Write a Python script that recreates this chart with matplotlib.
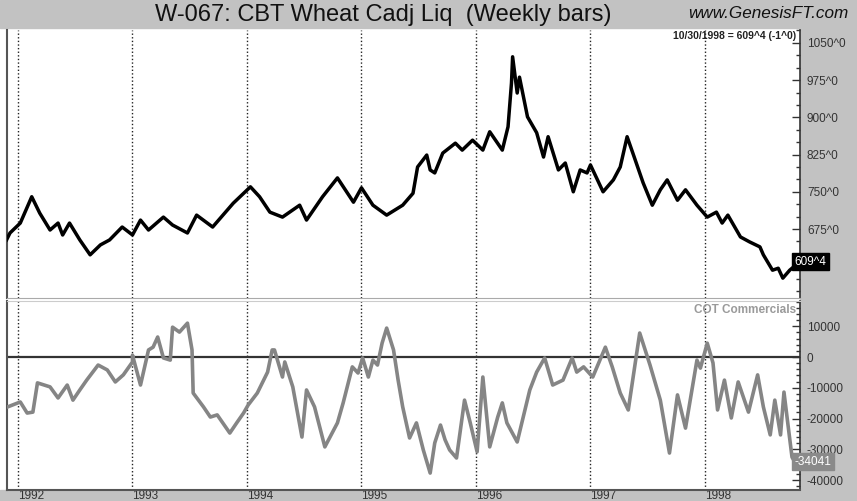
import matplotlib
matplotlib.use("Agg")
import matplotlib.pyplot as plt
from matplotlib.patches import Rectangle
from matplotlib.ticker import MultipleLocator, FixedLocator

plt.rcParams['font.family'] = ['Liberation Sans', 'DejaVu Sans']

# weekly price (cents, decimal year)
price_t = [1991.90, 1991.93, 1992.02, 1992.12, 1992.19, 1992.28, 1992.35, 1992.39,
           1992.45, 1992.54, 1992.63, 1992.72, 1992.80, 1992.91, 1993.00, 1993.07,
           1993.14, 1993.27, 1993.35, 1993.48, 1993.56, 1993.70, 1993.88, 1994.03,
           1994.11, 1994.20, 1994.31, 1994.46, 1994.52, 1994.66, 1994.79, 1994.93,
           1995.00, 1995.10, 1995.22, 1995.36, 1995.45, 1995.49, 1995.57, 1995.60,
           1995.64, 1995.71, 1995.82, 1995.88, 1995.97, 1996.06, 1996.12, 1996.23,
           1996.28, 1996.31, 1996.32, 1996.36, 1996.38, 1996.45, 1996.53, 1996.59,
           1996.63, 1996.72, 1996.78, 1996.85, 1996.91, 1996.97, 1997.00, 1997.11,
           1997.20, 1997.26, 1997.32, 1997.37, 1997.46, 1997.54, 1997.61, 1997.67,
           1997.76, 1997.83, 1997.93, 1998.02, 1998.10, 1998.15, 1998.20, 1998.31,
           1998.39, 1998.48, 1998.51, 1998.59, 1998.64, 1998.68, 1998.74, 1998.83]
price = [653, 667, 687, 740, 707, 673, 687, 663,
         687, 653, 623, 643, 653, 679, 663, 693,
         673, 699, 683, 667, 703, 679, 727, 760,
         740, 709, 699, 723, 693, 740, 778, 729,
         758, 723, 703, 723, 747, 800, 824, 794,
         788, 828, 848, 834, 854, 834, 871, 834,
         881, 969, 1022, 949, 981, 901, 869, 820,
         861, 794, 808, 750, 794, 788, 804, 750,
         774, 800, 861, 828, 768, 723, 754, 774,
         733, 754, 723, 699, 709, 687, 703, 659,
         649, 639, 623, 592, 596, 576, 592, 609.5]

# COT commercials net position
cot_t = [1991.91, 1992.02, 1992.08, 1992.13, 1992.17, 1992.28, 1992.35, 1992.43,
         1992.48, 1992.54, 1992.60, 1992.70, 1992.78, 1992.85, 1992.92, 1993.00,
         1993.00, 1993.07, 1993.14, 1993.18, 1993.22, 1993.27, 1993.33, 1993.35,
         1993.41, 1993.48, 1993.52, 1993.53, 1993.62, 1993.68, 1993.74, 1993.85,
         1993.91, 1993.97, 1994.01, 1994.09, 1994.18, 1994.22, 1994.24, 1994.31,
         1994.33, 1994.40, 1994.48, 1994.52, 1994.59, 1994.68, 1994.79, 1994.84,
         1994.92, 1994.97, 1995.01, 1995.06, 1995.10, 1995.14, 1995.18, 1995.22,
         1995.28, 1995.32, 1995.36, 1995.42, 1995.48, 1995.54, 1995.60, 1995.64,
         1995.69, 1995.73, 1995.77, 1995.83, 1995.90, 1995.95, 1996.01, 1996.06,
         1996.12, 1996.19, 1996.23, 1996.27, 1996.36, 1996.47, 1996.53, 1996.60,
         1996.67, 1996.76, 1996.84, 1996.88, 1996.94, 1997.02, 1997.13, 1997.19,
         1997.26, 1997.33, 1997.43, 1997.52, 1997.61, 1997.69, 1997.76, 1997.83,
         1997.93, 1997.96, 1998.02, 1998.07, 1998.11, 1998.17, 1998.23, 1998.29,
         1998.38, 1998.46, 1998.51, 1998.57, 1998.61, 1998.66, 1998.69, 1998.72,
         1998.76, 1998.80, 1998.83]
cot = [-16200, -14600, -18200, -17900, -8400, -9700, -13300, -9100,
       -14000, -10700, -7500, -2600, -4200, -8100, -5800, -1600,
       600, -9100, 2300, 3200, 6500, -300, -1000, 9700,
       8100, 11000, 2300, -11700, -16200, -19500, -18800, -24700,
       -21400, -18200, -15600, -11700, -4900, 2300, 2300, -6500,
       -1600, -9700, -26000, -10700, -16200, -29200, -21400, -14900,
       -3200, -5200, -300, -6500, -1000, -2600, 4500, 9400,
       2300, -7500, -16200, -26300, -21400, -30200, -37700, -27900,
       -22100, -26900, -30200, -32800, -14000, -21400, -30800, -6500,
       -29200, -19500, -14900, -21400, -27600, -10700, -4900, -300,
       -9100, -7500, -300, -4900, -3200, -6500, 3200, -3200,
       -11700, -17200, 7800, -2600, -14000, -31200, -12300, -23100,
       -1000, -3600, 4500, -1900, -17200, -7500, -19800, -8100,
       -17900, -5800, -16200, -25300, -14000, -25300, -11400, -20500,
       -32500, -35100, -34041]

years = [1992, 1993, 1994, 1995, 1996, 1997, 1998]
price_ticks = [675, 750, 825, 900, 975, 1050]
cot_ticks = [-40000, -30000, -20000, -10000, 0, 10000]

W, H = 857, 501
fig = plt.figure(figsize=(W / 100, H / 100), dpi=100)
fig.patch.set_facecolor('white')
band = '#c2c2c2'
# gray frame bands (title, right axis area, date row)
fig.patches.append(Rectangle((0, 1 - 28 / H), 1, 28 / H, transform=fig.transFigure, color=band, zorder=-10))
fig.patches.append(Rectangle((800 / W, 0), 57 / W, 1, transform=fig.transFigure, color=band, zorder=-10))
fig.patches.append(Rectangle((0, 0), 1, 11 / H, transform=fig.transFigure, color=band, zorder=-10))

x0, x1 = 7 / W, 800 / W
ax1 = fig.add_axes([x0, 1 - 298 / H, x1 - x0, 268 / H])
ax2 = fig.add_axes([x0, 1 - 490 / H, x1 - x0, 189 / H])

xmin, xmax = 1991.904, 1998.83
for ax in (ax1, ax2):
    ax.set_xlim(xmin, xmax)
    for y in years:
        ax.axvline(y, color='#222222', lw=1.0, ls=(0, (1, 1.6)), zorder=1)
    ax.yaxis.tick_right()
    ax.tick_params(axis='y', direction='in', length=6, width=1, colors='#333333',
                   labelsize=8.5, labelcolor='#333333', pad=5)
    ax.tick_params(axis='y', which='minor', direction='in', length=3, width=1, colors='#333333')
    ax.tick_params(axis='x', length=0)
    ax.spines['left'].set_color('#555555')
    ax.spines['left'].set_linewidth(1.5)
    ax.spines['right'].set_color('#333333')
    ax.spines['right'].set_linewidth(1.2)

# price panel
ax1.plot(price_t, price, color='black', lw=2.5, zorder=3)
ax1.set_ylim(536, 1076)
ax1.yaxis.set_major_locator(FixedLocator(price_ticks))
ax1.yaxis.set_minor_locator(MultipleLocator(25))
ax1.set_yticklabels([f"{v}^0" for v in price_ticks])
ax1.set_xticks([])
ax1.spines['top'].set_visible(False)
ax1.spines['bottom'].set_color('#aaaaaa')
ax1.annotate("609^4", xy=(1.0, price[-1]), xycoords=('axes fraction', 'data'),
             xytext=(-4, 0), textcoords='offset points', ha='left', va='center',
             fontsize=8.5, color='white',
             bbox=dict(boxstyle='square,pad=0.2', fc='black', ec='black'),
             annotation_clip=False, zorder=5)
ax1.text(0.995, 1.0 - 0.005, "10/30/1998 = 609^4 (-1^0)", transform=ax1.transAxes,
         ha='right', va='top', fontsize=7.5, fontweight='bold', color='#222222')

# COT panel
ax2.plot(cot_t, cot, color='#858585', lw=2.6, zorder=3)
ax2.axhline(0, color='#333333', lw=1.6, zorder=2)
ax2.set_ylim(-43200, 18200)
ax2.yaxis.set_major_locator(FixedLocator(cot_ticks))
ax2.yaxis.set_minor_locator(MultipleLocator(2000))
ax2.set_yticklabels([str(v) for v in cot_ticks])
ax2.spines['top'].set_color('#cccccc')
ax2.spines['bottom'].set_color('#555555')
ax2.spines['bottom'].set_linewidth(1.5)
ax2.set_xticks(years)
ax2.set_xticklabels([str(y) for y in years], fontsize=8.5, color='#333333', ha='left')
ax2.tick_params(axis='x', pad=0.3)
ax2.text(0.995, 0.985, "COT Commercials", transform=ax2.transAxes, ha='right', va='top',
         fontsize=8.5, fontweight='bold', color='#9a9a9a', zorder=4)
ax2.annotate(str(cot[-1]), xy=(1.0, cot[-1]), xycoords=('axes fraction', 'data'),
             xytext=(-4, 0), textcoords='offset points', ha='left', va='center',
             fontsize=8.5, color='white',
             bbox=dict(boxstyle='square,pad=0.2', fc='#8a8a8a', ec='#8a8a8a'),
             annotation_clip=False, zorder=5)

fig.text(383 / W, 1 - 15 / H, "W-067: CBT Wheat Cadj Liq  (Weekly bars)", ha='center', va='center',
         fontsize=17, color='#111111')
fig.text(848 / W, 1 - 14 / H, "www.GenesisFT.com", ha='right', va='center',
         fontsize=12.3, style='italic', color='#111111')

fig.savefig('out.png', dpi=100, facecolor=fig.get_facecolor())
